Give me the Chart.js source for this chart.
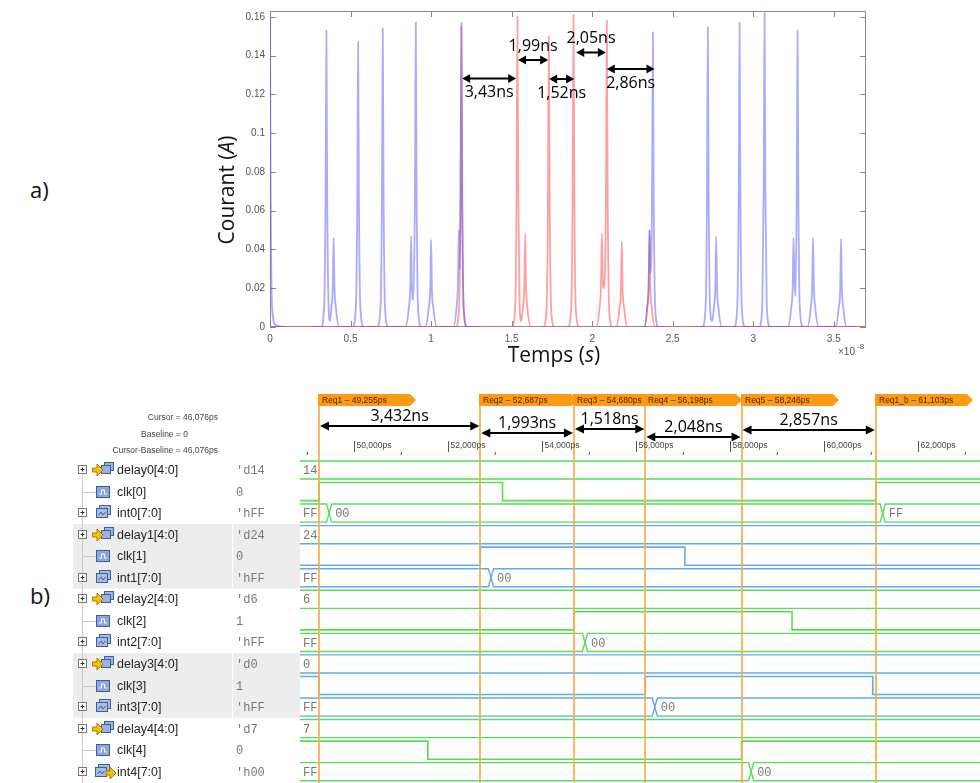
<!DOCTYPE html>
<html>
<head>
<meta charset="utf-8">
<script src="https://cdn.jsdelivr.net/npm/chart.js@4.4.1/dist/chart.umd.min.js"></script>
<style>
  body { margin: 0; background: #fff; width: 980px; height: 783px; overflow: hidden; position: relative; font-family: 'Open Sans', sans-serif; }
  canvas { position: absolute; left: 0; }
  #courant { top: 0; }
  #chrono { top: 388px; }
  .lettre { position: absolute; font-size: 22px; color: #111; }
</style>
</head>
<body>
<div class="lettre" style="left:30px;top:174px">a)</div>
<div class="lettre" style="left:30px;top:580px">b)</div>
<canvas id="courant" width="980" height="385"></canvas>
<canvas id="chrono" width="980" height="395"></canvas>
<script>

// ---- a) courant mesuré : [temps (x1e-8 s), courant (A)] ----
var courbeBleue = [
  [0, 0.16], [0.004, 0.072], [0.013, 0.01], [0.035, 0.001], [0.1, 0], [0.18, null],
  [0.268, 0], [0.315, 0], [0.336, 0.01], [0.345, 0.069], [0.35, 0.153], [0.355, 0.069], [0.364, 0.01], [0.373, 0.003],
  [0.381, 0.01], [0.39, 0.021], [0.395, 0.046], [0.4, 0.021], [0.409, 0.01], [0.43, 0],
  [0.512, 0], [0.533, 0.01], [0.542, 0.066], [0.547, 0.147], [0.552, 0.066], [0.561, 0.01], [0.582, 0],
  [0.665, 0], [0.686, 0.01], [0.695, 0.069], [0.7, 0.154], [0.705, 0.069], [0.714, 0.01], [0.735, 0],
  [0.84, 0], [0.862, 0.01], [0.871, 0.021], [0.876, 0.047], [0.881, 0.021], [0.89, 0.014], [0.9, 0.071], [0.905, 0.157], [0.91, 0.071], [0.919, 0.01], [0.94, 0],
  [0.965, 0], [0.986, 0.01], [0.995, 0.02], [1.0, 0.045], [1.005, 0.02], [1.014, 0.01], [1.035, 0],
  [1.14, 0], [1.16, 0.012], [1.167, 0.022], [1.172, 0.05], [1.177, 0.03], [1.183, 0.071], [1.188, 0.157], [1.193, 0.071], [1.202, 0.01], [1.225, 0], [1.3, 0], [1.8, null],
  [2.3, 0], [2.325, 0], [2.344, 0.012], [2.351, 0.022], [2.356, 0.05], [2.362, 0.028], [2.372, 0.068], [2.377, 0.152], [2.382, 0.068], [2.391, 0.01], [2.412, 0], [2.46, 0], [2.55, null],
  [2.64, 0], [2.683, 0], [2.704, 0.01], [2.713, 0.07], [2.718, 0.1545], [2.723, 0.07], [2.732, 0.01], [2.745, 0.003],
  [2.756, 0.01], [2.765, 0.021], [2.77, 0.0465], [2.775, 0.021], [2.784, 0.01], [2.805, 0],
  [2.88, 0], [2.901, 0.01], [2.91, 0.071], [2.915, 0.157], [2.92, 0.071], [2.929, 0.01], [2.95, 0],
  [3.035, 0], [3.056, 0.01], [3.065, 0.073], [3.07, 0.162], [3.075, 0.073], [3.084, 0.01], [3.105, 0],
  [3.215, 0], [3.236, 0.01], [3.245, 0.021], [3.25, 0.046], [3.256, 0.024], [3.262, 0.016], [3.27, 0.069], [3.275, 0.153], [3.28, 0.069], [3.289, 0.01], [3.31, 0],
  [3.336, 0], [3.357, 0.01], [3.366, 0.021], [3.371, 0.046], [3.376, 0.021], [3.385, 0.01], [3.406, 0],
  [3.51, 0], [3.531, 0.01], [3.54, 0.02], [3.545, 0.0455], [3.55, 0.02], [3.559, 0.01], [3.58, 0], [3.63, 0]
];
var courbeRouge = [
  [0, 0], [1.153, 0], [1.174, 0.01], [1.183, 0.07], [1.188, 0.155], [1.193, 0.07], [1.202, 0.01], [1.223, 0],
  [1.501, 0], [1.522, 0.01], [1.531, 0.072], [1.536, 0.16], [1.541, 0.072], [1.55, 0.01], [1.56, 0.003],
  [1.57, 0.01], [1.579, 0.022], [1.584, 0.048], [1.589, 0.022], [1.598, 0.01], [1.619, 0],
  [1.696, 0], [1.717, 0.01], [1.726, 0.068], [1.731, 0.15], [1.736, 0.068], [1.745, 0.01], [1.766, 0],
  [1.849, 0], [1.87, 0.01], [1.879, 0.072], [1.884, 0.161], [1.889, 0.072], [1.898, 0.01], [1.919, 0],
  [2.025, 0], [2.046, 0.01], [2.055, 0.022], [2.06, 0.048], [2.066, 0.024], [2.074, 0.02], [2.086, 0.071], [2.091, 0.158], [2.096, 0.071], [2.105, 0.01], [2.126, 0],
  [2.149, 0], [2.17, 0.01], [2.179, 0.02], [2.184, 0.044], [2.189, 0.02], [2.198, 0.01], [2.219, 0],
  [2.321, 0], [2.342, 0.01], [2.351, 0.022], [2.356, 0.05], [2.361, 0.022], [2.37, 0.01], [2.391, 0], [3.7, 0]
];

// intervalles annotés sur a)
var mesureDebut = [1.193, 1.540, 1.733, 1.901, 2.091];
var mesureFin = [1.528, 1.727, 1.888, 2.085, 2.387];
var mesureNiveau = [0.1282, 0.1377, 0.1279, 0.1416, 0.1331];
var mesureTexte = ['3,43ns', '1,99ns', '1,52ns', '2,05ns', '2,86ns'];
var mesureDessous = [true, false, true, false, true];

// ---- b) chronogramme (ps) ----
var tDebut = 48850, tFin = 63320;
var curseurs = ['Req1', 'Req2', 'Req3', 'Req4', 'Req5', 'Req1_b'];
var tCurseurs = [49255, 52687, 54680, 56198, 58246, 61103];
var ecarts = ['3,432ns', '1,993ns', '1,518ns', '2,048ns', '2,857ns'];
var graduations = [49000, 50000, 51000, 52000, 53000, 54000, 55000, 56000, 57000, 58000, 59000, 60000, 61000, 62000, 63000];

var signaux = ['delay0[4:0]', 'clk[0]', 'int0[7:0]', 'delay1[4:0]', 'clk[1]', 'int1[7:0]', 'delay2[4:0]', 'clk[2]', 'int2[7:0]',
  'delay3[4:0]', 'clk[3]', 'int3[7:0]', 'delay4[4:0]', 'clk[4]', 'int4[7:0]'];
var valeursCurseur = ["'d14", '0', "'hFF", "'d24", '0', "'hFF", "'d6", '1', "'hFF", "'d0", '1', "'hFF", "'d7", '0', "'h00"];
var delais = ['14', '24', '6', '0', '7'];

// horloges : [instant, niveau]
var clk0 = [[tDebut, 0], [49255, 1], [53160, 0], [61103, 1]];
var clk1 = [[tDebut, 0], [52687, 1], [57040, 0]];
var clk2 = [[tDebut, 0], [54680, 1], [59320, 0]];
var clk3 = [[tDebut, 1], [49255, 0], [56198, 1], [61040, 0]];
var clk4 = [[tDebut, 1], [51570, 0], [58246, 1]];
// bus int : [instant, valeur]
var int0 = [[tDebut, 'FF'], [49470, '00'], [61250, 'FF']];
var int1 = [[tDebut, 'FF'], [52915, '00']];
var int2 = [[tDebut, 'FF'], [54915, '00']];
var int3 = [[tDebut, 'FF'], [56400, '00']];
var int4 = [[tDebut, 'FF'], [58450, '00']];

var horloges = [clk0, clk1, clk2, clk3, clk4];
var bus = [int0, int1, int2, int3, int4];

// ---------------------------------------------------------------
function fleche(ctx, x1, x2, y, l, w) {
    ctx.beginPath();
    ctx.moveTo(x1 + l - 1, y);
    ctx.lineTo(x2 - l + 1, y);
    ctx.stroke();
    ctx.beginPath();
    ctx.moveTo(x1, y); ctx.lineTo(x1 + l, y - w); ctx.lineTo(x1 + l, y + w); ctx.closePath();
    ctx.moveTo(x2, y); ctx.lineTo(x2 - l, y - w); ctx.lineTo(x2 - l, y + w); ctx.closePath();
    ctx.fill();
}

function texteMixte(ctx, parts, x, y) {
    var total = 0;
    parts.forEach(function (p) {
        ctx.font = (p[1] ? 'italic ' : '') + '21px "Open Sans"';
        total += ctx.measureText(p[0]).width;
    });
    var cx = x - total / 2;
    parts.forEach(function (p) {
        ctx.font = (p[1] ? 'italic ' : '') + '21px "Open Sans"';
        ctx.fillText(p[0], cx, y);
        cx += ctx.measureText(p[0]).width;
    });
}

var cadreA = {
    id: 'cadreA',
    beforeDatasetsDraw: function (chart) {
        var ctx = chart.ctx, a = chart.chartArea, x = chart.scales.x, y = chart.scales.y;
        ctx.save();
        ctx.strokeStyle = '#8c8c8c';
        ctx.lineWidth = 1;
        ctx.strokeRect(Math.round(a.left) + 0.5, Math.round(a.top) + 0.5, Math.round(a.right - a.left) - 1, Math.round(a.bottom - a.top) - 1);
        ctx.strokeStyle = '#888';
        ctx.beginPath();
        x.ticks.forEach(function (t) {
            var px = Math.round(x.getPixelForValue(t.value)) + 0.5;
            ctx.moveTo(px, a.bottom); ctx.lineTo(px, a.bottom - 6);
            ctx.moveTo(px, a.top); ctx.lineTo(px, a.top + 6);
        });
        y.ticks.forEach(function (t) {
            var py = Math.round(y.getPixelForValue(t.value)) + 0.5;
            ctx.moveTo(a.left, py); ctx.lineTo(a.left + 6, py);
            ctx.moveTo(a.right, py); ctx.lineTo(a.right - 6, py);
        });
        ctx.stroke();
        ctx.restore();
    },
    afterDraw: function (chart) {
        var ctx = chart.ctx, a = chart.chartArea, x = chart.scales.x, y = chart.scales.y;
        ctx.save();
        ctx.fillStyle = '#111';
        ctx.textBaseline = 'middle';
        texteMixte(ctx, [['Temps (', false], ['s', true], [')', false]], (a.left + a.right) / 2 - 14, a.bottom + 29);
        ctx.save();
        ctx.translate(a.left - 42, (a.top + a.bottom) / 2 + 21);
        ctx.rotate(-Math.PI / 2);
        texteMixte(ctx, [['Courant (', false], ['A', true], [')', false]], 0, 0);
        ctx.restore();

        ctx.fillStyle = '#555';
        ctx.textBaseline = 'alphabetic';
        ctx.font = '10px "Liberation Sans"';
        ctx.fillText('\u00d710', a.right - 28, a.bottom + 28);
        ctx.font = '8px "Liberation Sans"';
        ctx.fillText('-8', a.right - 9, a.bottom + 22);

        ctx.fillStyle = '#000';
        ctx.strokeStyle = '#000';
        ctx.lineWidth = 2;
        ctx.textAlign = 'center';
        ctx.textBaseline = 'middle';
        ctx.font = '16px "Open Sans"';
        for (var i = 0; i < mesureTexte.length; i++) {
            var x1 = x.getPixelForValue(mesureDebut[i]);
            var x2 = x.getPixelForValue(mesureFin[i]);
            var py = y.getPixelForValue(mesureNiveau[i]);
            fleche(ctx, x1, x2, py, 8, 4.5);
            ctx.fillText(mesureTexte[i], (x1 + x2) / 2, py + (mesureDessous[i] ? 14 : -14));
        }
        ctx.restore();
    }
};

var versPoints = function (serie) {
    return serie.map(function (p) { return { x: p[0], y: p[1] }; });
};

new Chart(document.getElementById('courant').getContext('2d'), {
    type: 'line',
    data: {
        datasets: [{
            data: versPoints(courbeBleue),
            borderColor: 'rgba(85, 85, 255, 0.5)',
            borderWidth: 1.8,
            pointRadius: 0,
            cubicInterpolationMode: 'monotone',
            spanGaps: false,
            order: 0
        }, {
            data: versPoints(courbeRouge),
            borderColor: 'rgba(255, 80, 80, 0.55)',
            borderWidth: 1.8,
            pointRadius: 0,
            cubicInterpolationMode: 'monotone',
            order: 1
        }]
    },
    options: {
        responsive: false,
        animation: false,
        events: [],
        layout: { padding: { left: 230, right: 114, top: 10, bottom: 38 } },
        plugins: { legend: { display: false }, tooltip: { enabled: false } },
        scales: {
            x: {
                type: 'linear', min: 0, max: 3.7,
                grid: { display: false, drawTicks: false }, border: { display: false },
                ticks: {
                    stepSize: 0.5, includeBounds: false, maxRotation: 0, padding: 6, color: '#555',
                    font: { family: 'Liberation Sans', size: 10 },
                    callback: function (v) { return String(+v.toFixed(2)); }
                },
                afterFit: function (s) { s.height = 20; }
            },
            y: {
                type: 'linear', min: 0, max: 0.163,
                grid: { display: false, drawTicks: false }, border: { display: false },
                ticks: {
                    stepSize: 0.02, includeBounds: false, padding: 5, color: '#555',
                    font: { family: 'Liberation Sans', size: 10 },
                    callback: function (v) { return String(+v.toFixed(3)); }
                },
                afterFit: function (s) { s.width = 40; }
            }
        }
    },
    plugins: [cadreA]
});

// ---------------------------------------------------------------
var VERT = '#55df55', BLEU = '#5fabef';
var couleurLigne = function (ligne) { return Math.floor(ligne / 3) % 2 === 0 ? VERT : BLEU; };
var DEMI = 0.42, BISEAU = 55;

var jeux = [];
// lignes de bus : bord haut et bord bas, avec croisements aux transitions
function ajouterBus(ligne, transitions) {
    [-1, 1].forEach(function (sens) {
        var pts = [{ x: tDebut, y: ligne + sens * DEMI }];
        transitions.forEach(function (t) {
            pts.push({ x: t - BISEAU, y: ligne + sens * DEMI });
            pts.push({ x: t, y: ligne });
            pts.push({ x: t + BISEAU, y: ligne + sens * DEMI });
        });
        pts.push({ x: tFin, y: ligne + sens * DEMI });
        jeux.push({ data: pts, borderColor: couleurLigne(ligne), borderWidth: 1.4, pointRadius: 0, tension: 0 });
    });
}
for (var g = 0; g < 5; g++) {
    ajouterBus(g * 3, []);
    var h = horloges[g];
    var pts = h.map(function (p) { return { x: p[0], y: g * 3 + 1 + (p[1] ? -DEMI : DEMI) }; });
    pts.push({ x: tFin, y: pts[pts.length - 1].y });
    jeux.push({ data: pts, borderColor: couleurLigne(g * 3 + 1), borderWidth: 1.6, pointRadius: 0, stepped: true });
    ajouterBus(g * 3 + 2, bus[g].slice(1).map(function (p) { return p[0]; }));
}

function icone(ctx, type, yc, idx) {
    ctx.lineWidth = 1;
    if (type === 'delay') {
        ctx.fillStyle = '#9db3de'; ctx.strokeStyle = '#3d5f9e';
        ctx.fillRect(104.5, yc - 7.5, 9, 8); ctx.strokeRect(104.5, yc - 7.5, 9, 8);
        ctx.fillRect(101.5, yc - 4.5, 9, 8); ctx.strokeRect(101.5, yc - 4.5, 9, 8);
        ctx.fillStyle = '#f7c200'; ctx.strokeStyle = '#b07a00';
        ctx.beginPath();
        ctx.moveTo(92.5, yc - 2); ctx.lineTo(97, yc - 2); ctx.lineTo(97, yc - 6); ctx.lineTo(103, yc);
        ctx.lineTo(97, yc + 6); ctx.lineTo(97, yc + 2); ctx.lineTo(92.5, yc + 2); ctx.closePath();
        ctx.fill(); ctx.stroke();
    } else if (type === 'clk') {
        ctx.fillStyle = '#8aa6da'; ctx.strokeStyle = '#3d5f9e';
        ctx.fillRect(96.5, yc - 5.5, 13, 11); ctx.strokeRect(96.5, yc - 5.5, 13, 11);
        ctx.strokeStyle = '#fff';
        ctx.beginPath();
        ctx.moveTo(99, yc + 2); ctx.lineTo(101.5, yc + 2); ctx.lineTo(101.5, yc - 2); ctx.lineTo(104.5, yc - 2); ctx.lineTo(104.5, yc + 2); ctx.lineTo(107, yc + 2);
        ctx.stroke();
    } else {
        var dx = idx === 14 ? -1 : 0;
        ctx.fillStyle = '#a9bde3'; ctx.strokeStyle = '#3d5f9e';
        ctx.fillRect(99.5 + dx, yc - 7.5, 11, 9); ctx.strokeRect(99.5 + dx, yc - 7.5, 11, 9);
        ctx.fillRect(96.5 + dx, yc - 4.5, 11, 9); ctx.strokeRect(96.5 + dx, yc - 4.5, 11, 9);
        ctx.strokeStyle = '#3d5f9e';
        ctx.beginPath();
        ctx.moveTo(98.5 + dx, yc + 2); ctx.lineTo(101 + dx, yc - 1); ctx.lineTo(103 + dx, yc + 2); ctx.lineTo(105.5 + dx, yc - 1);
        ctx.stroke();
        if (idx === 14) {
            ctx.fillStyle = '#f7c200'; ctx.strokeStyle = '#b07a00';
            ctx.beginPath();
            ctx.moveTo(106, yc - 1); ctx.lineTo(110, yc - 1); ctx.lineTo(110, yc - 5); ctx.lineTo(116, yc + 1);
            ctx.lineTo(110, yc + 7); ctx.lineTo(110, yc + 3); ctx.lineTo(106, yc + 3); ctx.closePath();
            ctx.fill(); ctx.stroke();
        }
    }
}

var habillageB = {
    id: 'habillageB',
    beforeDraw: function (chart) {
        var ctx = chart.ctx, y = chart.scales.y;
        var pas = y.getPixelForValue(1) - y.getPixelForValue(0);
        ctx.save();
        ctx.fillStyle = '#ededed';
        [3, 9].forEach(function (r) {
            var top = y.getPixelForValue(r) - pas / 2;
            ctx.fillRect(73, top, 159, pas * 3);
            ctx.fillRect(233, top, 67, pas * 3);
        });
        ctx.restore();
    },
    afterDatasetsDraw: function (chart) {
        var ctx = chart.ctx, a = chart.chartArea, x = chart.scales.x, y = chart.scales.y;
        ctx.save();
        // textes des bus
        ctx.fillStyle = '#777';
        ctx.font = '12px "Liberation Mono"';
        ctx.textBaseline = 'middle';
        for (var g = 0; g < 5; g++) {
            ctx.fillText(delais[g], a.left + 3, y.getPixelForValue(g * 3) + 1);
            bus[g].forEach(function (p, k) {
                var px = k === 0 ? a.left + 3 : x.getPixelForValue(p[0]) + 6;
                ctx.fillText(p[1], px, y.getPixelForValue(g * 3 + 2) + 1);
            });
        }
        // curseurs
        ctx.strokeStyle = 'rgba(250, 172, 70, 0.85)';
        ctx.lineWidth = 2;
        ctx.beginPath();
        tCurseurs.forEach(function (t) {
            var px = Math.round(x.getPixelForValue(t));
            ctx.moveTo(px, 10); ctx.lineTo(px, chart.height);
        });
        ctx.stroke();
        ctx.restore();
    },
    afterDraw: function (chart) {
        var ctx = chart.ctx, a = chart.chartArea, x = chart.scales.x, y = chart.scales.y;
        ctx.save();
        ctx.textBaseline = 'middle';

        // en-tête gauche
        ctx.fillStyle = '#444';
        ctx.font = '8.5px "Liberation Sans"';
        ctx.textAlign = 'right';
        ctx.fillText('Cursor = 46,076ps', 218, 30);
        ctx.fillText('Baseline = 0', 188, 47);
        ctx.fillText('Cursor-Baseline = 46,076ps', 218, 63);
        ctx.textAlign = 'left';

        // arborescence
        ctx.strokeStyle = '#c8c8c8';
        ctx.lineWidth = 1;
        ctx.beginPath();
        ctx.moveTo(82.5, y.getPixelForValue(0)); ctx.lineTo(82.5, chart.height);
        for (var r = 0; r < signaux.length; r++) {
            if (r % 3 === 1) {
                var yy = Math.round(y.getPixelForValue(r)) + 0.5;
                ctx.moveTo(82.5, yy); ctx.lineTo(96, yy);
            }
        }
        ctx.stroke();

        for (var r2 = 0; r2 < signaux.length; r2++) {
            var yc = Math.round(y.getPixelForValue(r2));
            var type = r2 % 3 === 0 ? 'delay' : (r2 % 3 === 1 ? 'clk' : 'int');
            if (type !== 'clk') {
                ctx.fillStyle = '#fff'; ctx.strokeStyle = '#777'; ctx.lineWidth = 1;
                ctx.fillRect(78.5, yc - 4.5, 8, 8); ctx.strokeRect(78.5, yc - 4.5, 8, 8);
                ctx.strokeStyle = '#333';
                ctx.beginPath();
                ctx.moveTo(80.5, yc - 0.5); ctx.lineTo(84.5, yc - 0.5);
                ctx.moveTo(82.5, yc - 2.5); ctx.lineTo(82.5, yc + 1.5);
                ctx.stroke();
            }
            icone(ctx, type, yc, r2);
            ctx.fillStyle = '#222';
            ctx.font = '12.5px "Liberation Sans"';
            ctx.fillText(signaux[r2], 117, yc + 1);
            ctx.fillStyle = '#777';
            ctx.font = '12px "Liberation Mono"';
            ctx.fillText(valeursCurseur[r2], 236, yc + 1);
        }

        // règle des temps
        ctx.strokeStyle = '#555';
        ctx.fillStyle = '#444';
        ctx.lineWidth = 1;
        graduations.forEach(function (t) {
            var px = Math.round(x.getPixelForValue(t)) + 0.5;
            if (px < a.left) { return; }
            ctx.beginPath();
            if (t % 2000 === 0) {
                ctx.moveTo(px, 53); ctx.lineTo(px, 64);
                ctx.stroke();
                ctx.font = '8.5px "Liberation Sans"';
                ctx.fillText((t / 1000) + ',000ps', px + 2, 58);
            } else {
                ctx.moveTo(px, 64); ctx.lineTo(px - 0.5, 67);
                ctx.stroke();
            }
        });

        // drapeaux des curseurs
        tCurseurs.forEach(function (t, i) {
            var x0 = Math.round(x.getPixelForValue(t)) - 1;
            ctx.fillStyle = '#ff9a12';
            ctx.beginPath();
            ctx.moveTo(x0, 6); ctx.lineTo(x0 + 92, 6); ctx.lineTo(x0 + 98, 12); ctx.lineTo(x0 + 92, 18); ctx.lineTo(x0, 18);
            ctx.closePath();
            ctx.fill();
            ctx.fillStyle = '#4a2600';
            ctx.font = '8.5px "Liberation Sans"';
            ctx.fillText(curseurs[i] + ' \u2013 ' + (t / 1000).toFixed(3).replace('.', ',') + 'ps', x0 + 4, 12.5);
        });

        // écarts entre curseurs
        var niveaux = [38, 45, 41, 49, 42];
        ctx.fillStyle = '#000';
        ctx.strokeStyle = '#000';
        ctx.lineWidth = 2;
        ctx.textAlign = 'center';
        ctx.font = '16px "Open Sans"';
        for (var k = 0; k < ecarts.length; k++) {
            var x1 = x.getPixelForValue(tCurseurs[k]);
            var x2 = x.getPixelForValue(tCurseurs[k + 1]);
            fleche(ctx, x1 + 1, x2 - 1, niveaux[k], 9, 4.5);
            ctx.fillText(ecarts[k], (x1 + x2) / 2, niveaux[k] - 10);
        }
        ctx.restore();
    }
};

new Chart(document.getElementById('chrono').getContext('2d'), {
    type: 'line',
    data: { datasets: jeux },
    options: {
        responsive: false,
        animation: false,
        events: [],
        layout: { padding: { left: 300, right: 0, top: 70, bottom: 0 } },
        plugins: { legend: { display: false }, tooltip: { enabled: false } },
        scales: {
            x: { type: 'linear', min: tDebut, max: tFin, display: false },
            y: { type: 'linear', min: -0.557, max: 14.524, reverse: true, display: false }
        }
    },
    plugins: [habillageB]
});
</script>
</body>
</html>
